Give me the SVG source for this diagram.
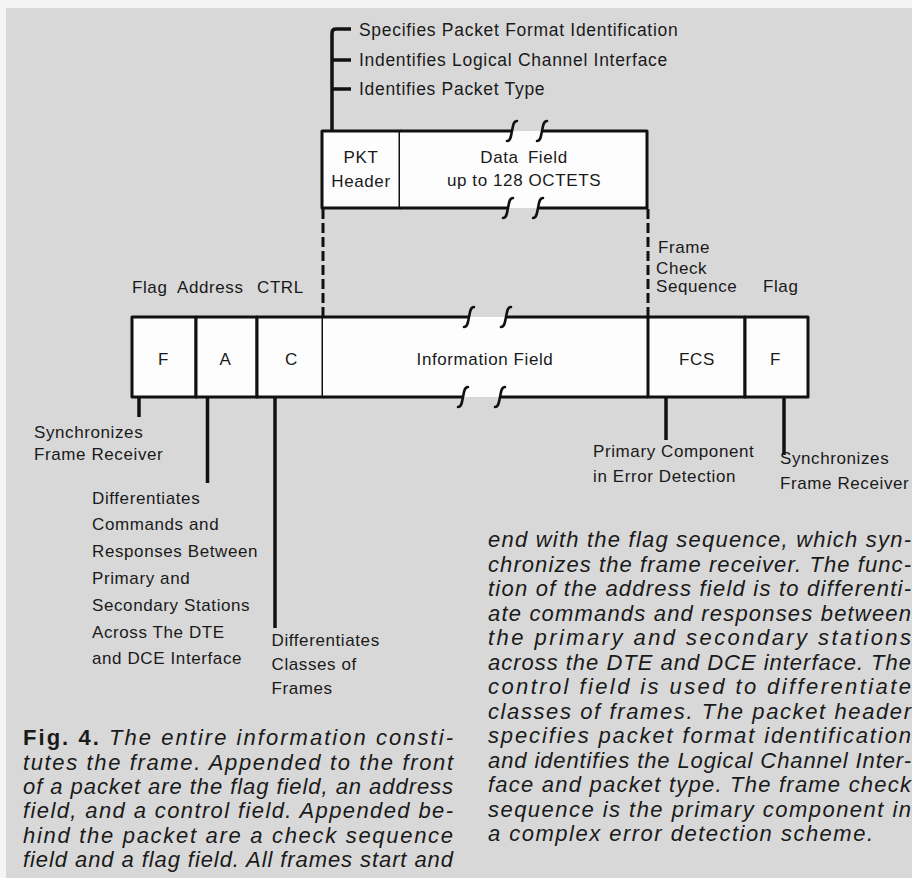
<svg xmlns="http://www.w3.org/2000/svg" width="912" height="878" viewBox="0 0 912 878">
<defs>
<style>
.bg{fill:#d8d8d8}
.wf{fill:#fdfdfd;stroke:none}
.box{fill:#fdfdfd;stroke:#111;stroke-width:3;stroke-linejoin:round}
.ln{fill:none;stroke:#111;stroke-width:3;stroke-linejoin:round}
.brk{fill:none;stroke:#111;stroke-width:2.6;stroke-linecap:round}
.stem{fill:none;stroke:#111;stroke-width:3.5}
.dash{fill:none;stroke:#111;stroke-width:3;stroke-dasharray:10 4}
.lbl{font-family:"Liberation Sans",Arial,Helvetica,sans-serif;font-size:17px;letter-spacing:0.6px;fill:#1a1a1a}
.mid{text-anchor:middle}
.top{font-size:17.5px;letter-spacing:0.7px}
.cap{font-family:"Liberation Sans",Arial,Helvetica,sans-serif;font-size:22px;font-style:italic;fill:#1a1a1a}
.fig{font-weight:bold;font-style:normal}
</style>
</defs>
<rect x="0" y="0" width="912" height="878" fill="#f4f4f4"/>
<rect class="bg" x="6" y="8" width="906" height="870"/>

<g id="connectors">
  <path class="stem" d="M351,29 H336 Q332,29 332,33 V131 M332,60 H351 M332,89 H351"/>
  <path class="dash" d="M323,209 V317"/>
  <path class="dash" d="M648,209 V317"/>
  <path class="stem" d="M139,398 V417"/>
  <path class="stem" d="M207.5,398 V483"/>
  <path class="stem" d="M275,398 V628"/>
  <path class="stem" d="M666,398 V440"/>
  <path class="stem" d="M784,398 V455"/>
</g>

<g id="packet-header">
  <rect class="box" x="322" y="131" width="78" height="77"/>
  <text class="lbl mid" x="361" y="163">PKT</text>
  <text class="lbl mid" x="361" y="187">Header</text>
</g>

<g id="data-field">
  <rect class="wf" x="400" y="131" width="247" height="77"/>
  <path class="ln" d="M400,131 H512 M542,131 H647 V208 H538 M508,208 H400"/>
  <path class="brk" d="M507,141 C511,141 511,135 512,131 C513,127 513,121 517,121"/>
  <path class="brk" d="M537,141 C541,141 541,135 542,131 C543,127 543,121 547,121"/>
  <path class="brk" d="M503,218 C507,218 507,212 508,208 C509,204 509,198 513,198"/>
  <path class="brk" d="M533,218 C537,218 537,212 538,208 C539,204 539,198 543,198"/>
  <text class="lbl mid" x="524" y="163" word-spacing="4">Data Field</text>
  <text class="lbl mid" x="524" y="186">up to 128 OCTETS</text>
</g>

<g id="frame-flag-start">
  <rect class="box" x="132" y="317" width="64" height="80"/>
  <text class="lbl mid" x="163.5" y="365">F</text>
</g>
<g id="frame-address">
  <rect class="box" x="196" y="317" width="61" height="80"/>
  <text class="lbl mid" x="225.5" y="365">A</text>
</g>
<g id="frame-control">
  <rect class="box" x="257" y="317" width="66" height="80"/>
  <text class="lbl mid" x="291.5" y="365">C</text>
</g>
<g id="frame-information">
  <rect class="wf" x="323" y="317" width="325" height="80"/>
  <path class="ln" d="M323,317 H469 M506,317 H648 M323,397 H463 M500,397 H648"/>
  <path class="brk" d="M464,327 C468,327 468,321 469,317 C470,313 470,307 474,307"/>
  <path class="brk" d="M501,327 C505,327 505,321 506,317 C507,313 507,307 511,307"/>
  <path class="brk" d="M458,407 C462,407 462,401 463,397 C464,393 464,387 468,387"/>
  <path class="brk" d="M495,407 C499,407 499,401 500,397 C501,393 501,387 505,387"/>
  <text class="lbl mid" x="485" y="365">Information Field</text>
</g>
<g id="frame-fcs">
  <rect class="box" x="648" y="317" width="97" height="80"/>
  <text class="lbl mid" x="697" y="365">FCS</text>
</g>
<g id="frame-flag-end">
  <rect class="box" x="745" y="317" width="63" height="80"/>
  <text class="lbl mid" x="775.5" y="365">F</text>
</g>

<g id="labels">
  <text class="lbl top" x="359" y="36">Specifies Packet Format Identification</text>
  <text class="lbl top" x="359" y="66">Indentifies Logical Channel Interface</text>
  <text class="lbl top" x="359" y="95">Identifies Packet Type</text>
  <text class="lbl" y="293"><tspan x="132">Flag</tspan><tspan x="177">Address</tspan><tspan x="257">CTRL</tspan></text>
  <text class="lbl"><tspan x="658" y="253">Frame</tspan><tspan x="656" y="273.5">Check</tspan><tspan x="656" y="292">Sequence</tspan></text>
  <text class="lbl" x="763" y="292">Flag</text>
  <text class="lbl"><tspan x="34" y="438">Synchronizes</tspan><tspan x="34" y="459.5">Frame Receiver</tspan></text>
  <text class="lbl"><tspan x="92" y="503.5">Differentiates</tspan><tspan x="92" y="530">Commands and</tspan><tspan x="92" y="557">Responses Between</tspan><tspan x="92" y="583.5">Primary and</tspan><tspan x="92" y="610.5">Secondary Stations</tspan><tspan x="92" y="637.5">Across The DTE</tspan><tspan x="92" y="664">and DCE Interface</tspan></text>
  <text class="lbl"><tspan x="271.5" y="646">Differentiates</tspan><tspan x="271.5" y="670">Classes of</tspan><tspan x="271.5" y="694">Frames</tspan></text>
  <text class="lbl"><tspan x="593" y="457">Primary Component</tspan><tspan x="593" y="482">in Error Detection</tspan></text>
  <text class="lbl"><tspan x="780" y="464">Synchronizes</tspan><tspan x="780" y="488.5">Frame Receiver</tspan></text>
</g>

<g id="caption">
  <text class="cap" x="23" y="745" textLength="430" lengthAdjust="spacing"><tspan class="fig">Fig. 4.</tspan> The entire information consti-</text>
  <text class="cap" x="23" y="769.5" textLength="430" lengthAdjust="spacing">tutes the frame. Appended to the front</text>
  <text class="cap" x="23" y="794" textLength="430" lengthAdjust="spacing">of a packet are the flag field, an address</text>
  <text class="cap" x="23" y="818" textLength="430" lengthAdjust="spacing">field, and a control field. Appended be-</text>
  <text class="cap" x="23" y="842.5" textLength="430" lengthAdjust="spacing">hind the packet are a check sequence</text>
  <text class="cap" x="23" y="867" textLength="430" lengthAdjust="spacing">field and a flag field. All frames start and</text>
  <text class="cap" x="488" y="547" textLength="423" lengthAdjust="spacing">end with the flag sequence, which syn-</text>
  <text class="cap" x="488" y="571.5" textLength="423" lengthAdjust="spacing">chronizes the frame receiver. The func-</text>
  <text class="cap" x="488" y="596" textLength="423" lengthAdjust="spacing">tion of the address field is to differenti-</text>
  <text class="cap" x="488" y="620.5" textLength="423" lengthAdjust="spacing">ate commands and responses between</text>
  <text class="cap" x="488" y="645" textLength="423" lengthAdjust="spacing">the primary and secondary stations</text>
  <text class="cap" x="488" y="669.5" textLength="423" lengthAdjust="spacing">across the DTE and DCE interface. The</text>
  <text class="cap" x="488" y="694" textLength="423" lengthAdjust="spacing">control field is used to differentiate</text>
  <text class="cap" x="488" y="718.5" textLength="423" lengthAdjust="spacing">classes of frames. The packet header</text>
  <text class="cap" x="488" y="743" textLength="423" lengthAdjust="spacing">specifies packet format identification</text>
  <text class="cap" x="488" y="767.5" textLength="423" lengthAdjust="spacing">and identifies the Logical Channel Inter-</text>
  <text class="cap" x="488" y="792" textLength="423" lengthAdjust="spacing">face and packet type. The frame check</text>
  <text class="cap" x="488" y="816.5" textLength="423" lengthAdjust="spacing">sequence is the primary component in</text>
  <text class="cap" x="488" y="841" textLength="385" lengthAdjust="spacing">a complex error detection scheme.</text>
</g>
</svg>
